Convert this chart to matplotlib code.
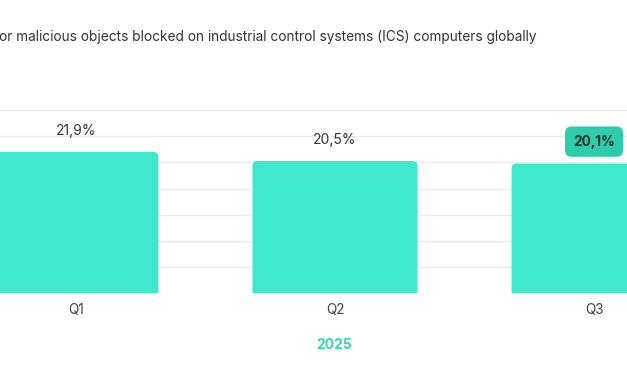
import numpy as np
import matplotlib
matplotlib.use("Agg")
import matplotlib.pyplot as plt
from matplotlib.patches import FancyBboxPatch

# Data
quarters = ["Q1", "Q2", "Q3"]
values = [21.9, 20.5, 20.1]
labels = ["21,9%", "20,5%", "20,1%"]
year = "2025"
title = "or malicious objects blocked on industrial control systems (ICS) computers globally"

bar_color = "#3fe8cc"
badge_color = "#2dcdab"
text_color = "#333333"
grid_color = "#e8eaee"

plt.rcParams["font.family"] = ["Inter", "DejaVu Sans"]

fig = plt.figure(figsize=(6.27, 3.76), dpi=100)
ax = fig.add_axes([0, 0.22, 1, 0.4874])

x = np.arange(len(quarters))
xmin, xmax = -0.293, 2.127
ymax = 28.4
ax.set_xlim(xmin, xmax)
ax.set_ylim(0, ymax)

# grid lines
for g in np.linspace(0, ymax, 8)[1:]:
    ax.axhline(g, color=grid_color, lw=1, zorder=0)

# rounded bars
width = 0.637
px_x = 627 / (xmax - xmin)
px_y = 183.3 / ymax
r = 5 / px_x
aspect = (5 / px_y) / r
for xi, v in zip(x, values):
    p = FancyBboxPatch((xi - width / 2, -1.5), width, v + 1.5,
                       boxstyle=f"round,pad=0,rounding_size={r}",
                       mutation_aspect=aspect, fc=bar_color, ec="none", zorder=2)
    ax.add_patch(p)

# value labels
for i, (xi, v, lab) in enumerate(zip(x, values, labels)):
    if i == len(values) - 1:
        ax.text(xi, v + 3.4, lab, ha="center", va="center", fontsize=9.8,
                fontweight="bold", color="#1f2a2a", clip_on=False, zorder=4,
                bbox=dict(boxstyle="round,pad=0.6,rounding_size=0.5",
                          fc=badge_color, ec="none"))
    else:
        ax.text(xi, v + 3.3, lab, ha="center", va="center", fontsize=10,
                color=text_color, clip_on=False, zorder=4)

ax.set_xticks(x)
ax.set_xticklabels(quarters, fontsize=9.8, color="#444444")
ax.tick_params(axis="x", length=0, pad=7)
ax.set_yticks([])
for s in ax.spines.values():
    s.set_visible(False)

fig.text(-0.002, 1 - 37 / 376, title, ha="left", va="center",
         fontsize=9.85, color=text_color)
fig.text(334 / 627, 1 - 345 / 376, year, ha="center", va="center",
         fontsize=10, fontweight="bold", color="#33d6b6")

fig.savefig("out.png", dpi=100)
